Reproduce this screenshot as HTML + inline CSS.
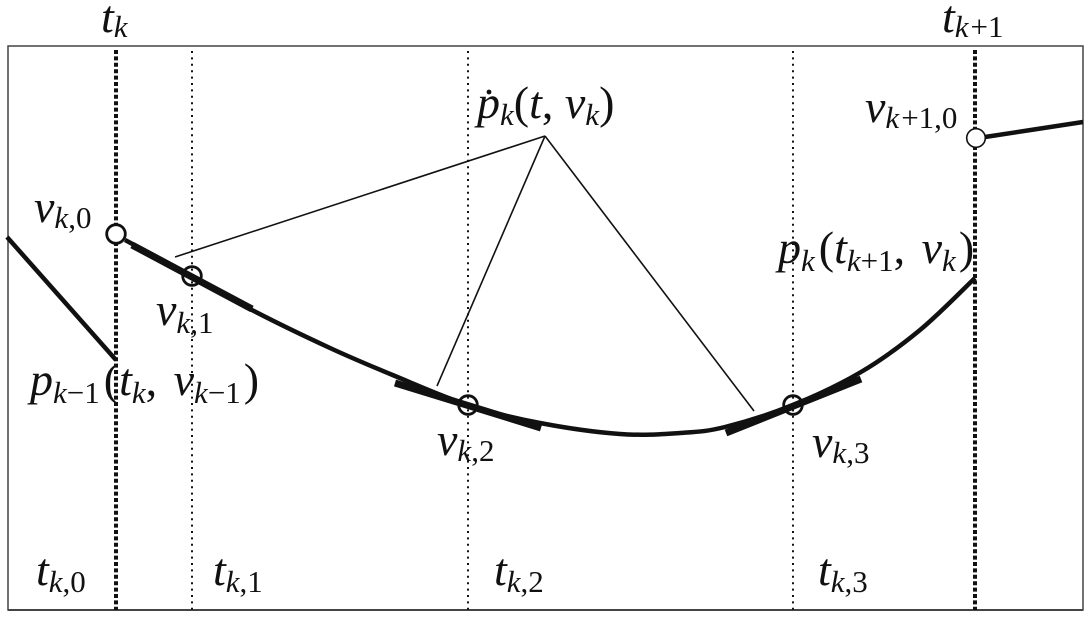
<!DOCTYPE html>
<html>
<head>
<meta charset="utf-8">
<title>Piecewise trajectory diagram</title>
<style>
html,body{margin:0;padding:0;background:#fff;}
svg{display:block;}
text{font-family:"Liberation Serif",serif;font-size:46px;fill:#111;font-style:italic;}
.s{font-size:31px;}
.r{font-style:normal;}
</style>
</head>
<body>
<svg id="chart" width="1092" height="621" viewBox="0 0 1092 621" xmlns="http://www.w3.org/2000/svg">
<rect x="0" y="0" width="1092" height="621" fill="#fff"/>
<rect x="8" y="46" width="1075" height="564" fill="none" stroke="#444" stroke-width="1.5"/>
<line x1="8" y1="610" x2="1083" y2="610" stroke="#444" stroke-width="2"/>
<g id="marks"></g>
<g>
<text x="101" y="32">t<tspan class="s" dy="5">k</tspan></text>
<text x="942" y="32">t<tspan class="s" dy="5">k</tspan><tspan class="s r" dx="2">+1</tspan></text>
<text x="477" y="118">p<tspan class="s" dy="7">k</tspan><tspan class="r" dy="-7">(</tspan>t<tspan class="r">, </tspan>v<tspan class="s" dy="7">k</tspan><tspan class="r" dy="-7">)</tspan></text>
<circle cx="489" cy="92" r="2.4" fill="#111"/>
<text x="865" y="122">v<tspan class="s" dy="6">k</tspan><tspan class="s r" dx="2">+1,0</tspan></text>
<text x="34" y="222">v<tspan class="s" dy="6">k</tspan><tspan class="s r">,0</tspan></text>
<text x="156" y="325">v<tspan class="s" dy="8">k</tspan><tspan class="s r">,1</tspan></text>
<text x="30" y="395">p<tspan class="s" dy="8">k</tspan><tspan class="s r">−1</tspan><tspan class="r" dx="4" dy="-8">(</tspan>t<tspan class="s" dy="8">k</tspan><tspan class="r" dy="-8">, </tspan><tspan dx="5">v</tspan><tspan class="s" dy="8">k</tspan><tspan class="s r">−1</tspan><tspan class="r" dx="3" dy="-8">)</tspan></text>
<text x="778" y="263">p<tspan class="s" dy="8">k</tspan><tspan class="r" dx="4" dy="-8">(</tspan>t<tspan class="s" dy="8">k</tspan><tspan class="s r">+1</tspan><tspan class="r" dy="-8">, </tspan><tspan dx="5">v</tspan><tspan class="s" dy="8">k</tspan><tspan class="r" dx="3" dy="-8">)</tspan></text>
<text x="437" y="455">v<tspan class="s" dy="6">k</tspan><tspan class="s r">,2</tspan></text>
<text x="812" y="457">v<tspan class="s" dy="6">k</tspan><tspan class="s r">,3</tspan></text>
<text x="36" y="585">t<tspan class="s" dy="7">k</tspan><tspan class="s r">,0</tspan></text>
<text x="213" y="585">t<tspan class="s" dy="7">k</tspan><tspan class="s r">,1</tspan></text>
<text x="494" y="585">t<tspan class="s" dy="7">k</tspan><tspan class="s r">,2</tspan></text>
<text x="818" y="585">t<tspan class="s" dy="7">k</tspan><tspan class="s r">,3</tspan></text>
</g>
</svg>
<script>
// Values: t = horizontal position in the frame, v = height above the frame bottom.
var majorTimes = [108, 967];
var minorTimes = [184, 460, 785];

var curveT = [117, 184, 242, 322, 387, 460, 532, 612, 672, 717, 785, 853, 912, 967];
var curveV = [370, 334, 301, 262, 234, 205, 187, 176, 177, 183, 205, 238, 280, 332];

var prevT = [-1, 108];
var prevV = [373, 250];

var nextT = [977, 1075];
var nextV = [473, 488];

var tangentStartT = [124, 387, 718];
var tangentStartV = [365, 227, 177];
var tangentEndT = [244, 533, 853];
var tangentEndV = [301, 182, 231];

var apexT = [537];
var apexV = [474];
var leaderT = [167, 429, 746];
var leaderV = [353, 224, 199];

var knotT = [108, 184, 460, 785, 968];
var knotV = [376, 334, 205, 205, 472];
var knotFilled = [1, 0, 0, 0, 1];

var NS = 'http://www.w3.org/2000/svg';
var marks = document.getElementById('marks');
function xAxis(t) { return 8 + t; }
function yAxis(v) { return 610 - v; }
function add(tag, attrs, parent) {
  var el = document.createElementNS(NS, tag);
  for (var k in attrs) { el.setAttribute(k, attrs[k]); }
  (parent || marks).appendChild(el);
  return el;
}

majorTimes.forEach(function (t) {
  var el = add('line', { x1: xAxis(t), x2: xAxis(t), y1: 50, y2: 610, stroke: '#111', 'stroke-width': 4, 'stroke-dasharray': '4 2.4' });
  
  
});
minorTimes.forEach(function (t) {
  var el = add('line', { x1: xAxis(t), x2: xAxis(t), y1: 51, y2: 610, stroke: '#111', 'stroke-width': 2, 'stroke-dasharray': '2 4.4' });
  
  
});

function smoothPath(ts, vs) {
  var p = ts.map(function (t, i) { return [xAxis(t), yAxis(vs[i])]; });
  var d = 'M' + p[0][0] + ' ' + p[0][1];
  for (var i = 0; i < p.length - 1; i++) {
    var a = p[Math.max(i - 1, 0)], b = p[i], c = p[i + 1], e = p[Math.min(i + 2, p.length - 1)];
    d += ' C' + (b[0] + (c[0] - a[0]) / 6) + ' ' + (b[1] + (c[1] - a[1]) / 6) + ' ' +
      (c[0] - (e[0] - b[0]) / 6) + ' ' + (c[1] - (e[1] - b[1]) / 6) + ' ' + c[0] + ' ' + c[1];
  }
  return d;
}

var curve = add('path', { d: smoothPath(curveT, curveV), fill: 'none', stroke: '#111', 'stroke-width': 4.5 });



var prev = add('path', { d: smoothPath(prevT, prevV), fill: 'none', stroke: '#111', 'stroke-width': 4.5 });



var next = add('path', { d: smoothPath(nextT, nextV), fill: 'none', stroke: '#111', 'stroke-width': 4.5 });



tangentStartT.forEach(function (t, i) {
  var el = add('line', { x1: xAxis(t), y1: yAxis(tangentStartV[i]), x2: xAxis(tangentEndT[i]), y2: yAxis(tangentEndV[i]), stroke: '#111', 'stroke-width': 7 });
  
  
});

leaderT.forEach(function (t, i) {
  var el = add('line', { x1: xAxis(apexT[0]), y1: yAxis(apexV[0]), x2: xAxis(t), y2: yAxis(leaderV[i]), stroke: '#111', 'stroke-width': 1.6 });
  
  
});

knotT.forEach(function (t, i) {
  var el = add('circle', { cx: xAxis(t), cy: yAxis(knotV[i]), r: 9.3, fill: knotFilled[i] ? '#fff' : 'none', stroke: '#111', 'stroke-width': i === 4 ? 1.6 : 2.8 });
  
  
});
</script>
</body>
</html>
